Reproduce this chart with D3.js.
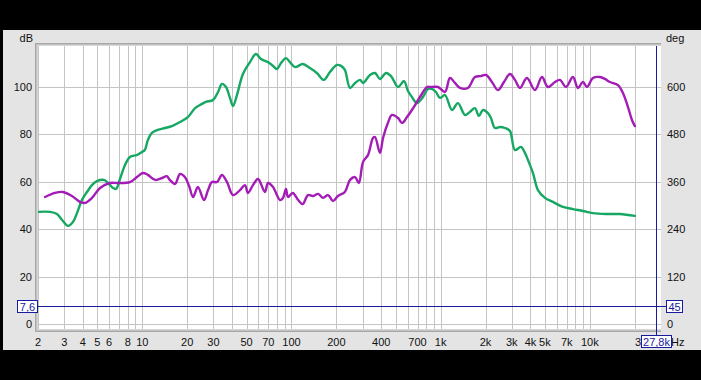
<!DOCTYPE html>
<html>
<head>
<meta charset="utf-8">
<script src="https://cdnjs.cloudflare.com/ajax/libs/d3/7.8.5/d3.min.js"></script>
<style>
  html, body { margin: 0; padding: 0; background: #000; }
  svg { display: block; }
  text { font-family: "Liberation Sans", Arial, sans-serif; font-size: 11px; fill: #111; }
</style>
</head>
<body>
<div id="chart"></div>
<script>
// green trace (left axis, dB)
const greenFreq = [2, 2.41, 2.68, 2.9, 3.18, 3.43, 3.65, 3.94, 4.26, 4.6, 4.97, 5.54, 5.98, 6.36, 6.67, 7.09,
  7.66, 8.27, 9.22, 9.96, 10.4, 10.9, 11.6, 12.7, 14.2, 15.8, 17.9, 20.2, 22.6, 24.4, 26.7, 29.8, 32.2, 34.2,
  36.4, 38.7, 40.6, 43.1, 47.3, 52.7, 57.8, 62.5, 69.6, 74, 80, 85.1, 91.9, 97.7, 106, 119, 133, 148, 165,
  181, 202, 215, 228, 247, 267, 288, 302, 336, 363, 392, 430, 465, 518, 568, 604, 642, 694, 761, 822, 875,
  930, 989, 1069, 1191, 1306, 1456, 1572, 1698, 1806, 1921, 2075, 2174, 2312, 2498, 2698, 2915, 3149, 3454,
  3674, 3849, 4158, 4491, 5003, 5660, 6607, 7709, 8995, 10494, 12824, 15917, 20060]
const greenDb = [47.3, 47.3, 46.4, 43.9, 41.4, 43.0, 46.8, 52.3, 55.7, 58.6, 60.3, 60.8, 59.1, 57.4, 57.0, 61.2,
  67.1, 70.5, 71.3, 72.6, 73.4, 77.6, 80.6, 81.9, 82.7, 83.5, 85.2, 87.3, 91.1, 92.4, 93.7, 94.5, 97.9, 101.3,
  100.0, 95.4, 92.0, 96.6, 105.5, 110.5, 113.9, 111.8, 110.5, 109.3, 107.6, 110.1, 112.2, 110.5, 108.4, 109.7,
  108.0, 105.9, 103.0, 106.3, 109.3, 108.9, 107.2, 99.6, 101.7, 103.0, 101.7, 105.1, 105.9, 103.4, 105.9, 104.6,
  100.0, 102.5, 98.3, 95.8, 93.2, 95.8, 99.2, 99.2, 97.9, 95.4, 96.6, 90.3, 93.2, 88.2, 89.5, 91.1, 87.8, 90.3,
  89.0, 86.9, 82.7, 83.1, 82.7, 81.4, 73.4, 74.7, 72.2, 69.2, 63.7, 56.5, 53.2, 51.5, 49.4, 48.5, 47.7, 46.8,
  46.4, 46.4, 45.6]

// magenta trace (left axis, dB)
const magentaFreq = [2.23, 2.6, 2.94, 3.38, 3.82, 4.13, 4.6, 5.21, 6.08, 6.88, 8.27, 9.22, 10.1, 10.9, 12.2, 13.6,
  14.6, 15.3, 16.6, 17.9, 19.3, 20.6, 21.9, 23.6, 25.9, 27.6, 29.3, 31.7, 34.2, 37.0, 40.6, 45.2, 48.8, 51.1,
  55.2, 59.7, 66.4, 69.6, 75.2, 83.8, 87.7, 91.9, 94.8, 102, 111, 119, 129, 139, 151, 163, 176, 190, 205, 228,
  247, 267, 283, 302, 326, 352, 363, 392, 411, 443, 472, 518, 551, 595, 642, 694, 727, 810, 848, 960, 1069,
  1155, 1247, 1347, 1524, 1698, 1863, 2012, 2208, 2422, 2657, 2915, 3149, 3402, 3789, 4286, 4776, 5239, 5837,
  6308, 6917, 7709, 8326, 8995, 9566, 10494, 11694, 12630, 13641, 15436, 16669, 18008, 19156, 20060]
const magentaDb = [53.6, 55.3, 55.7, 54.0, 51.5, 51.1, 53.2, 57.4, 59.5, 59.5, 59.9, 62.0, 63.7, 62.9, 60.8, 61.6,
  62.4, 60.8, 59.1, 63.3, 62.0, 58.2, 53.6, 57.8, 52.3, 56.5, 59.9, 59.9, 62.9, 59.9, 54.4, 56.5, 58.6, 55.3,
  58.6, 61.2, 55.7, 59.5, 57.8, 52.3, 53.2, 57.0, 53.6, 55.3, 52.3, 50.6, 54.4, 54.0, 54.9, 53.2, 54.4, 51.9,
  54.0, 55.7, 60.8, 62.0, 59.5, 68.4, 71.3, 78.5, 78.9, 72.2, 78.5, 84.8, 88.2, 86.9, 84.8, 87.3, 90.3, 93.7,
  95.8, 100.0, 100.0, 100.0, 97.9, 103.8, 101.7, 99.6, 99.6, 104.2, 104.6, 105.1, 102.1, 98.7, 102.1, 105.5,
  103.0, 99.6, 103.8, 98.7, 104.2, 100.0, 102.1, 103.0, 100.0, 104.2, 99.6, 102.1, 100.0, 103.8, 104.2, 103.4,
  102.1, 100.8, 97.5, 91.6, 86.1, 83.5]

const xGrid = [2, 3, 4, 5, 6, 7, 8, 9, 10, 20, 30, 40, 50, 60, 70, 80, 90, 100, 200, 300, 400, 500, 600, 700,
  800, 900, 1000, 2000, 3000, 4000, 5000, 6000, 7000, 8000, 9000, 10000, 20000]
const xLabels = [2, 3, 4, 5, 6, 8, 10, 20, 30, 50, 70, 100, 200, 400, 700, 1000, 2000, 3000, 4000, 5000, 7000, 10000]
const dbTicks = [0, 20, 40, 60, 80, 100]
const degTicks = [0, 120, 240, 360, 480, 600]
const cursorFreq = 27800
const cursorDb = 7.6
const cursorDeg = 45

const W = 701
const H = 380
const plot = { left: 38, right: 661, top: 46, bottom: 329 }

const svg = d3.select('#chart').append('svg').attr('width', W).attr('height', H)
svg.append('rect').attr('width', W).attr('height', H).attr('fill', '#000')
svg.append('rect').attr('x', 3).attr('y', 30).attr('width', W - 3).attr('height', 320).attr('fill', '#e4e4e4')

const x = d3.scaleLog().domain([2, 30000]).range([plot.left, plot.right])
const y = d3.scaleLinear().domain([0, 100]).range([324, 87])
const yDeg = d3.scaleLinear().domain([0, 600]).range([324, 87])

// inset shadow round the plot
const shade = ['#a8a8a8', '#c0c0c0', '#d8d8d8']
shade.forEach((c, i) => {
  svg.append('rect').attr('x', plot.left - 3 + i).attr('y', plot.top - 3 + i)
    .attr('width', plot.right - plot.left + 3 - i).attr('height', plot.bottom - plot.top + 6 - 2 * i).attr('fill', c)
})
svg.append('rect').attr('x', plot.left).attr('y', plot.top)
  .attr('width', plot.right - plot.left).attr('height', plot.bottom - plot.top).attr('fill', '#fff')

svg.append('clipPath').attr('id', 'clip').append('rect')
  .attr('x', plot.left).attr('y', plot.top).attr('width', plot.right - plot.left).attr('height', plot.bottom - plot.top)

const grid = svg.append('g').attr('stroke', '#c4c4c4').attr('stroke-width', 1)
grid.selectAll('.v').data(xGrid).join('line')
  .attr('x1', d => Math.round(x(d)) + 0.5).attr('x2', d => Math.round(x(d)) + 0.5)
  .attr('y1', plot.top).attr('y2', plot.bottom)
grid.selectAll('.h').data(dbTicks).join('line')
  .attr('x1', plot.left).attr('x2', plot.right)
  .attr('y1', d => Math.round(y(d)) + 0.5).attr('y2', d => Math.round(y(d)) + 0.5)

// axes labels
const fmt = d => d >= 1000 ? (d / 1000) + 'k' : String(d)
svg.append('g').selectAll('text').data(xLabels).join('text')
  .attr('x', d => x(d)).attr('y', 346).attr('text-anchor', 'middle').text(fmt)
svg.append('g').selectAll('text').data(dbTicks).join('text')
  .attr('x', 32).attr('y', d => y(d) + 4).attr('text-anchor', 'end').text(d => d)
svg.append('g').selectAll('text').data(degTicks).join('text')
  .attr('x', 667).attr('y', d => yDeg(d) + 4).text(d => d)
svg.append('text').attr('x', 33).attr('y', 42).attr('text-anchor', 'end').text('dB')
svg.append('text').attr('x', 666).attr('y', 42).text('deg')
svg.append('text').attr('x', 635).attr('y', 346).text('3')
svg.append('text').attr('x', 671).attr('y', 346).text('Hz')

// traces
const line = (fs, vs) => d3.line()
  .x((d, i) => x(fs[i])).y(d => y(d))
  .curve(d3.curveCatmullRom.alpha(0.5))(vs)
const traces = svg.append('g').attr('clip-path', 'url(#clip)').attr('fill', 'none')
  .attr('stroke-width', 2.4).attr('stroke-linejoin', 'round').attr('stroke-linecap', 'round')
traces.append('path').attr('d', line(greenFreq, greenDb)).attr('stroke', '#16a862')
traces.append('path').attr('d', line(magentaFreq, magentaDb)).attr('stroke', '#a31cb5')

// cursor
const blue = '#1a1aa0'
const cx = Math.round(x(cursorFreq)) + 0.5
const cy = Math.round(y(cursorDb)) + 0.5
svg.append('line').attr('x1', plot.left).attr('x2', 666).attr('y1', cy).attr('y2', cy).attr('stroke', blue)
svg.append('line').attr('x1', cx).attr('x2', cx).attr('y1', plot.top).attr('y2', 335).attr('stroke', blue)

const box = (bx, by, w, label) => {
  svg.append('rect').attr('x', bx + 0.5).attr('y', by + 0.5).attr('width', w).attr('height', 12)
    .attr('fill', '#fff').attr('stroke', blue)
  svg.append('text').attr('x', bx + w / 2 + 0.5).attr('y', by + 10.5).attr('text-anchor', 'middle')
    .style('fill', blue).text(label)
}
box(17, cy - 6.5, 20, String(cursorDb).replace('.', ','))
box(666, cy - 6.5, 16, String(cursorDeg))
box(641, 335, 30, (cursorFreq / 1000).toFixed(1).replace('.', ',') + 'k')
</script>
</body>
</html>
